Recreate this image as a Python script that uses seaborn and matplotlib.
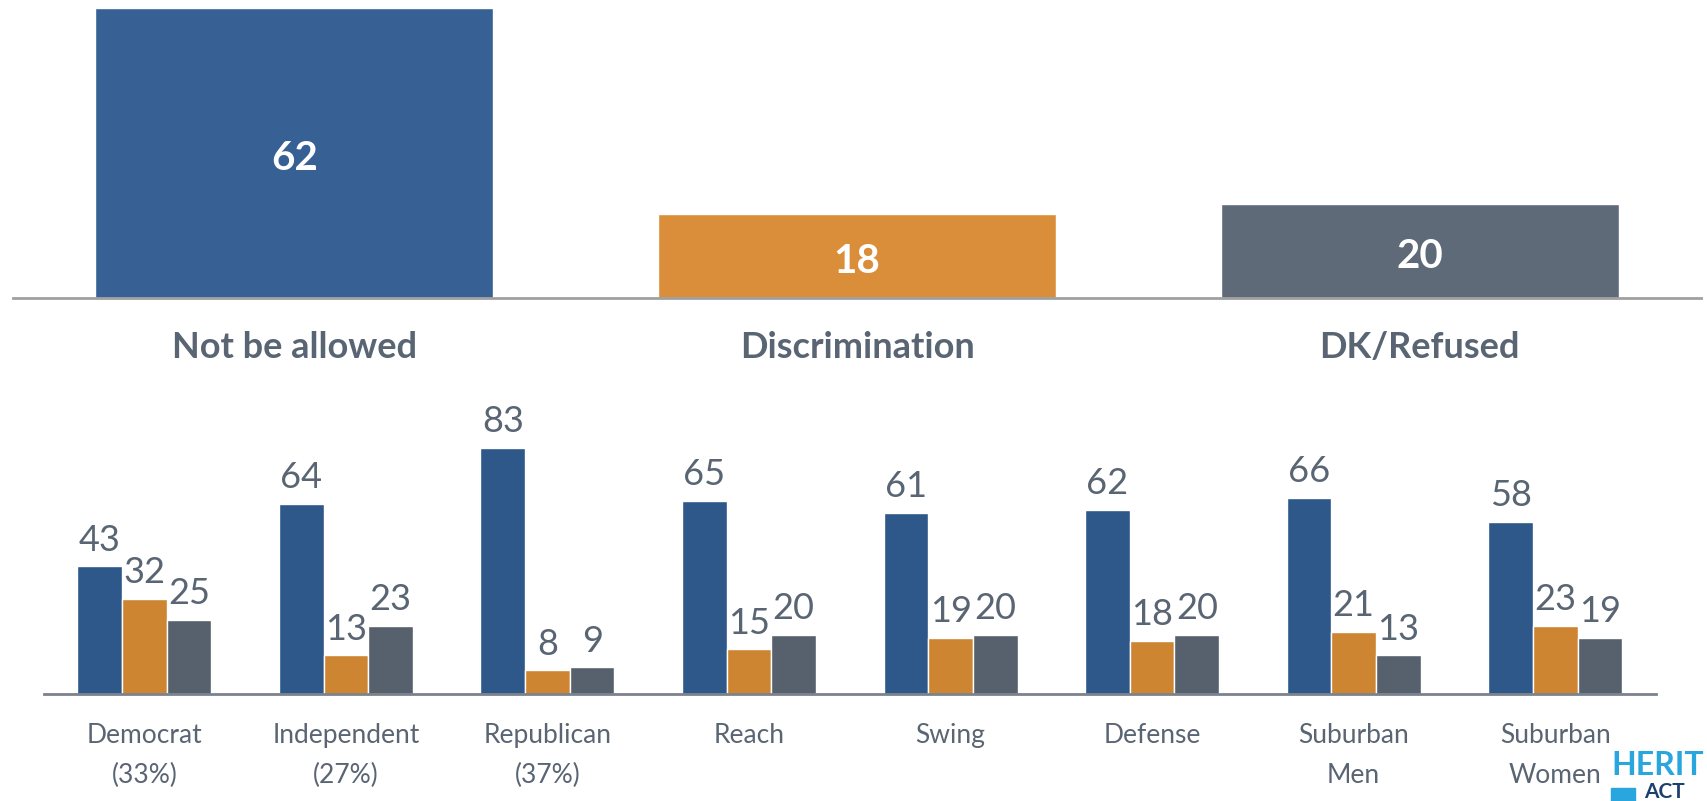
import matplotlib
matplotlib.use('Agg')
import matplotlib.pyplot as plt
from matplotlib.patches import Rectangle
import pandas as pd
import seaborn as sns

# ── Data ────────────────────────────────────────────────────────────────────
OVERALL_LABELS = ['Not be allowed', 'Discrimination', 'DK/Refused']
OVERALL_VALUES = [62, 18, 20]

GROUPS = ['Democrat\n(33%)', 'Independent\n(27%)', 'Republican\n(37%)', 'Reach',
          'Swing', 'Defense', 'Suburban\nMen', 'Suburban\nWomen']
NOT_ALLOWED = [43, 64, 83, 65, 61, 62, 66, 58]
DISCRIMINATION = [32, 13, 8, 15, 19, 18, 21, 23]
DK_REFUSED = [25, 23, 9, 20, 20, 20, 13, 19]

TOP_COLORS = ['#376095', '#DB8E3A', '#5F6A78']
BOTTOM_COLORS = ['#2E5889', '#CE8532', '#56616D']
TEXT = '#5A6573'

sns.set_theme(style='white')
plt.rcParams['font.family'] = ['Lato', 'DejaVu Sans']

fig = plt.figure(figsize=(17.08, 8.01), dpi=100)

# ── Bottom panel: by group (drawn first, transparent, so the top labels stay visible)
ax_bot = fig.add_axes([43.6 / 1708, 1 - 694 / 801, (1656 - 43.6) / 1708, 0.43])
ax_bot.patch.set_alpha(0)
series = {'Not be allowed': NOT_ALLOWED, 'Discrimination': DISCRIMINATION,
          'DK/Refused': DK_REFUSED}
long = pd.concat(
    [pd.DataFrame({'group': GROUPS, 'answer': name, 'value': vals})
     for name, vals in series.items()],
    ignore_index=True,
)
sns.barplot(data=long, x='group', y='value', hue='answer', order=GROUPS,
            hue_order=OVERALL_LABELS, palette=BOTTOM_COLORS, width=0.665,
            saturation=1, legend=False, ax=ax_bot)
for container in ax_bot.containers:
    ax_bot.bar_label(container, padding=7, color=TEXT, fontsize=26)
ax_bot.set_xlim(-0.5, 7.5)
ax_bot.set_ylim(0, 0.43 * 801 / 2.967)
ax_bot.set_xlabel('')
ax_bot.set_ylabel('')
ax_bot.set_yticks([])
ax_bot.tick_params(axis='x', length=0, pad=21, labelsize=19, labelcolor=TEXT)
for label in ax_bot.get_xticklabels():
    label.set_linespacing(1.75)
sns.despine(ax=ax_bot, left=True)
ax_bot.spines['bottom'].set_color('#7A828C')
ax_bot.spines['bottom'].set_linewidth(2)

# ── Top panel: overall ──────────────────────────────────────────────────────
ax_top = fig.add_axes([13 / 1708, 1 - 297.5 / 801, 1 - 13 / 1708 - 0.004, 297.5 / 801])
ax_top.patch.set_alpha(0)
top_df = pd.DataFrame({'answer': OVERALL_LABELS, 'value': OVERALL_VALUES})
sns.barplot(data=top_df, x='answer', y='value', hue='answer', order=OVERALL_LABELS,
            hue_order=OVERALL_LABELS, palette=TOP_COLORS, width=0.707,
            saturation=1, legend=False, ax=ax_top)
for container in ax_top.containers:
    labels = ax_top.bar_label(container, label_type='center', color='white',
                              fontsize=29, fontweight='bold')
    for text in labels:
        text.set_y(text.get_position()[1] - 4)
ax_top.set_xlim(-0.5, 2.5)
ax_top.set_ylim(0, 63.8)
ax_top.set_xlabel('')
ax_top.set_ylabel('')
ax_top.set_yticks([])
ax_top.tick_params(axis='x', length=0, pad=24, labelsize=26, labelcolor=TEXT)
for label in ax_top.get_xticklabels():
    label.set_fontweight('bold')
sns.despine(ax=ax_top, left=True)
ax_top.spines['bottom'].set_color('#A0A0A0')
ax_top.spines['bottom'].set_linewidth(2)

# ── Logo (only the part visible in the corner) ─────────────────────────────
fig.text(1611 / 1708, 1 - 775 / 801, 'HERIT', color='#29A6DE', fontsize=23,
         fontweight='bold', va='baseline', ha='left')
fig.add_artist(Rectangle((1611 / 1708, 0), 24 / 1708, 13 / 801,
                         transform=fig.transFigure, color='#29A6DE'))
fig.text(1644 / 1708, 1 - 798 / 801, 'ACT', color='#1B3F6E', fontsize=15,
         fontweight='bold', va='baseline', ha='left')

fig.savefig('out.png', dpi=100)
